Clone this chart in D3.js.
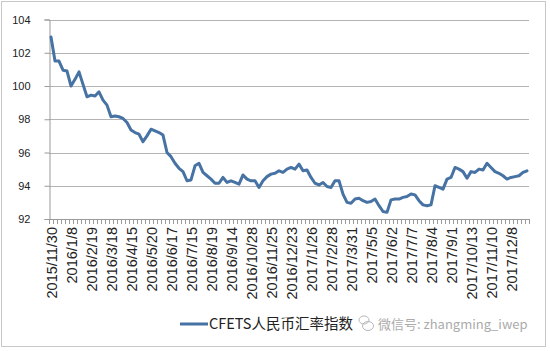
<!DOCTYPE html>
<html>
<head>
<meta charset="utf-8">
<script src="https://cdn.jsdelivr.net/npm/d3@7"></script>
<style>
  html, body { margin: 0; padding: 0; background: #fff; }
  svg { display: block; }
</style>
</head>
<body>
<svg id="chart" width="550" height="351"></svg>
<script>
// ---- data ----
const seriesName = "CFETS人民币汇率指数";
const values = [
  102.95, 101.5, 101.5, 100.95, 100.9, 100.0, 100.4, 100.85, 100.1, 99.35,
  99.45, 99.4, 99.65, 99.15, 98.85, 98.15, 98.2, 98.15, 98.05, 97.8,
  97.35, 97.2, 97.1, 96.65, 97.0, 97.4, 97.3, 97.2, 97.05, 96.0,
  95.75, 95.35, 95.05, 94.85, 94.3, 94.35, 95.2, 95.35, 94.8, 94.6,
  94.4, 94.15, 94.15, 94.5, 94.2, 94.3, 94.2, 94.1, 94.65, 94.4,
  94.3, 94.3, 93.9, 94.3, 94.55, 94.7, 94.75, 94.9, 94.8, 95.0,
  95.1, 95.0, 95.3, 94.9, 94.95, 94.5, 94.15, 94.05, 94.2, 93.95,
  93.9, 94.3, 94.3, 93.5, 93.0, 92.95, 93.2, 93.25, 93.1, 93.0,
  93.05, 93.2, 92.8, 92.45, 92.4, 93.15, 93.2, 93.2, 93.3, 93.35,
  93.5, 93.45, 93.1, 92.85, 92.8, 92.85, 94.0, 93.9, 93.8, 94.4,
  94.5, 95.1, 95.0, 94.85, 94.45, 94.85, 94.8, 95.0, 94.95, 95.35,
  95.1, 94.85, 94.75, 94.6, 94.4, 94.5, 94.55, 94.6, 94.8, 94.9
];
const tickLabels = [
  "2015/11/30", "2016/1/8", "2016/2/19", "2016/3/18", "2016/4/15", "2016/5/20",
  "2016/6/17", "2016/7/15", "2016/8/19", "2016/9/14", "2016/10/28", "2016/11/25",
  "2016/12/23", "2017/1/26", "2017/2/28", "2017/3/31", "2017/5/5", "2017/6/2",
  "2017/7/7", "2017/8/4", "2017/9/1", "2017/10/13", "2017/11/10", "2017/12/8"
];
const labelEvery = 5;
const yTicks = [92, 94, 96, 98, 100, 102, 104];
const watermark = "微信号: zhangming_iwep";

// ---- layout ----
const svg = d3.select("#chart");
const plotL = 49, plotR = 529, plotT = 19.5, plotB = 219;
const lineColor = "#4672a4";
const axisColor = "#9a9a9a";
const font = "'Liberation Sans', Arial, sans-serif";

// chart border
svg.append("rect").attr("x", 1.5).attr("y", 1.5).attr("width", 544).attr("height", 345)
  .attr("fill", "#fff").attr("stroke", "#c8c8c8").attr("stroke-width", 1);

const idx = d3.range(values.length);
const x = d3.scaleBand().domain(idx).range([plotL, plotR]).paddingInner(0).paddingOuter(0);
const cx = i => x(i) + x.bandwidth() / 2;
const y = d3.scaleLinear().domain([92, 104]).range([plotB, plotT]);

// gridlines
svg.append("g").selectAll("line").data(yTicks.filter(t => t !== 92)).join("line")
  .attr("x1", plotL).attr("x2", plotR)
  .attr("y1", d => Math.round(y(d)) + 0.5).attr("y2", d => Math.round(y(d)) + 0.5)
  .attr("stroke", "#b4b4b4").attr("stroke-width", 1);

// y axis
const yAxis = d3.axisLeft(y).tickValues(yTicks).tickSize(5).tickPadding(14).tickFormat(d3.format("d"));
const gy = svg.append("g").attr("transform", `translate(${plotL + 0.5},0)`).call(yAxis);
gy.select(".domain").attr("stroke", axisColor);
gy.selectAll(".tick line").attr("stroke", axisColor);
gy.selectAll(".tick text").attr("font-family", font).attr("font-size", 11).attr("fill", "#222");

// x axis line & ticks at band boundaries
const gx = svg.append("g");
gx.append("line").attr("x1", plotL).attr("x2", plotR)
  .attr("y1", Math.round(plotB) + 0.5).attr("y2", Math.round(plotB) + 0.5)
  .attr("stroke", axisColor);
gx.selectAll("line.tk").data(d3.range(values.length + 1)).join("line").attr("class", "tk")
  .attr("x1", i => Math.round(plotL + i * x.bandwidth()) + 0.5)
  .attr("x2", i => Math.round(plotL + i * x.bandwidth()) + 0.5)
  .attr("y1", Math.round(plotB)).attr("y2", Math.round(plotB) + 5)
  .attr("stroke", axisColor);

// x labels
gx.selectAll("text").data(tickLabels).join("text")
  .attr("transform", (d, k) => `translate(${cx(k * labelEvery) + 0.5},227) rotate(-90)`)
  .attr("text-anchor", "end").attr("dy", "0.36em")
  .attr("font-family", font).attr("font-size", 14.5).attr("fill", "#222")
  .text(d => d);

// line
const line = d3.line().x((d, i) => cx(i)).y(d => y(d)).curve(d3.curveLinear);
svg.append("path").datum(values).attr("d", line)
  .attr("fill", "none").attr("stroke", lineColor).attr("stroke-width", 3)
  .attr("stroke-linejoin", "round").attr("stroke-linecap", "round");

// legend
svg.append("line").attr("x1", 180).attr("x2", 208).attr("y1", 324).attr("y2", 324)
  .attr("stroke", lineColor).attr("stroke-width", 3);
svg.append("text").attr("x", 209).attr("y", 329)
  .attr("font-family", "'Noto Sans CJK SC', 'Liberation Sans', sans-serif")
  .attr("font-size", 14.5).attr("fill", "#222").text(seriesName);

// watermark
const wm = svg.append("g").attr("fill", "none").attr("stroke", "#b8b8b8").attr("stroke-width", 1);
wm.append("ellipse").attr("cx", 364).attr("cy", 320).attr("rx", 5).attr("ry", 4);
wm.append("ellipse").attr("cx", 368).attr("cy", 326).attr("rx", 5.5).attr("ry", 4.5);
svg.append("text").attr("x", 378).attr("y", 329)
  .attr("font-family", "'Noto Sans CJK SC', 'Liberation Sans', sans-serif")
  .attr("font-size", 13).attr("fill", "#ababab").text(watermark);
</script>
</body>
</html>
